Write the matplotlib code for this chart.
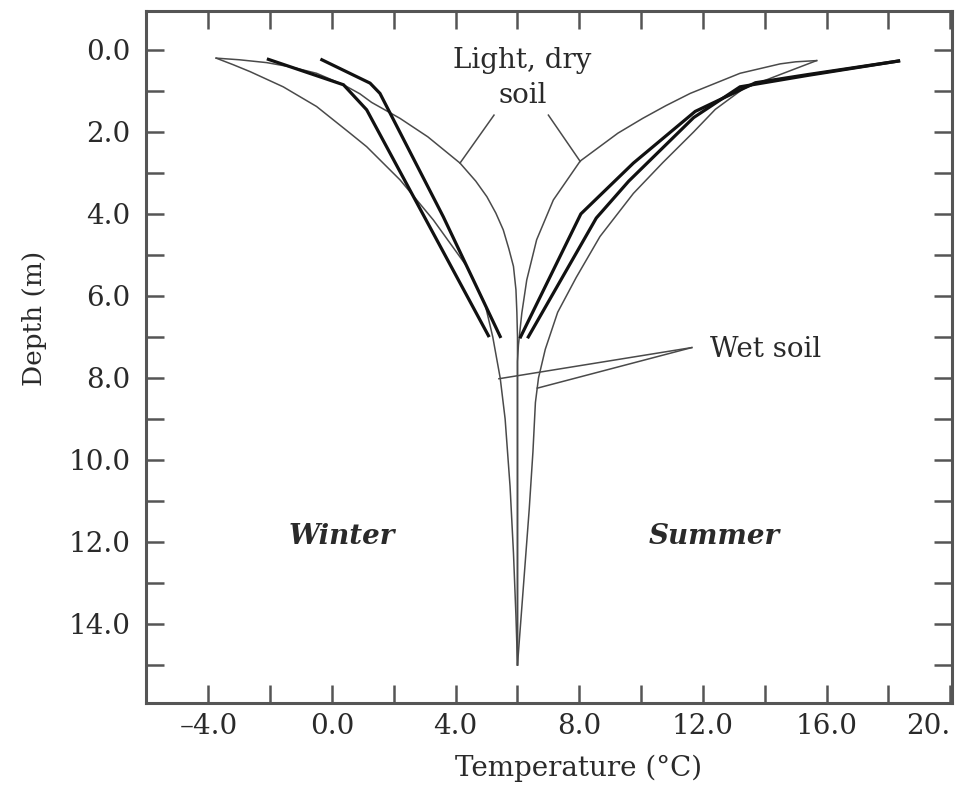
import numpy as np
import matplotlib.pyplot as plt

plt.rcParams['font.family'] = ['DejaVu Serif']

# seasonal soil temperature profiles, (temperature degC, depth m)
dry_winter_t = [-3.75, -3.0, -2.11, -1.3, -0.5, 0.37, 0.9, 1.28, 2.2, 3.1, 4.14, 4.65, 5.01,
                5.3, 5.54, 5.72, 5.87, 5.95, 5.98, 6.0, 6.0]
dry_winter_d = [0.2, 0.24, 0.31, 0.42, 0.57, 0.85, 1.07, 1.28, 1.67, 2.12, 2.76, 3.2, 3.58,
                3.98, 4.39, 4.85, 5.28, 5.85, 6.4, 7.0, 15.0]

wet_winter_t = [-3.75, -3.2, -2.65, -1.58, -0.5, 0.58, 1.12, 2.2, 3.28, 4.36, 4.95, 5.2, 5.44,
                5.6, 5.76, 5.87, 5.95, 6.0]
wet_winter_d = [0.2, 0.36, 0.53, 0.9, 1.38, 2.03, 2.36, 3.17, 4.15, 5.28, 6.2, 7.0, 8.0,
                9.0, 10.65, 12.27, 13.8, 15.0]

dry_summer_t = [15.68, 15.0, 14.5, 13.2, 11.59, 10.8, 10.05, 9.25, 8.03, 7.16, 6.62, 6.3, 6.14,
                6.03, 6.0, 6.0]
dry_summer_d = [0.26, 0.29, 0.34, 0.57, 1.06, 1.36, 1.67, 2.03, 2.71, 3.66, 4.63, 5.61, 6.42,
                7.2, 7.6, 15.0]

wet_summer_t = [15.68, 14.5, 13.3, 12.4, 11.7, 10.7, 9.75, 8.67, 7.9, 7.3, 6.9, 6.68, 6.58,
                6.5, 6.38, 6.22, 6.1, 6.0]
wet_summer_d = [0.26, 0.6, 0.95, 1.45, 2.0, 2.75, 3.5, 4.55, 5.55, 6.4, 7.3, 8.0, 8.6,
                9.8, 11.2, 12.8, 14.0, 15.0]

# measured profiles (thick lines)
obs_winter1_t = [-2.06, 0.37, 1.12, 5.06]
obs_winter1_d = [0.23, 0.85, 1.46, 6.97]
obs_winter2_t = [-0.33, 1.23, 1.55, 3.6, 5.44]
obs_winter2_d = [0.24, 0.81, 1.06, 4.07, 6.99]
obs_summer1_t = [18.33, 15.4, 13.7, 11.75, 9.75, 8.05, 6.1]
obs_summer1_d = [0.27, 0.6, 0.8, 1.5, 2.76, 4.0, 7.0]
obs_summer2_t = [18.33, 15.4, 13.2, 11.7, 9.6, 8.55, 6.35]
obs_summer2_d = [0.27, 0.62, 0.9, 1.65, 3.2, 4.1, 7.0]

x_ticks = [-4, -2, 0, 2, 4, 6, 8, 10, 12, 14, 16, 18, 20]
x_labels = ['\u20134.0', '', '0.0', '', '4.0', '', '8.0', '', '12.0', '', '16.0', '', '20.']
y_ticks = list(range(0, 16))
y_labels = ['%.1f' % v if v % 2 == 0 else '' for v in y_ticks]

txt = '#2a2a2a'
thin = dict(color='#4a4a4a', lw=1.1)
thick = dict(color='#111111', lw=2.3, solid_joinstyle='miter')

fig = plt.figure(figsize=(9.68, 7.9), dpi=100)
ax = fig.add_axes([0.1505, 0.1101, 0.833, 0.876])

for t, d in [(dry_winter_t, dry_winter_d), (wet_winter_t, wet_winter_d),
             (dry_summer_t, dry_summer_d), (wet_summer_t, wet_summer_d)]:
    ax.plot(t, d, **thin)
for t, d in [(obs_winter1_t, obs_winter1_d), (obs_winter2_t, obs_winter2_d),
             (obs_summer1_t, obs_summer1_d), (obs_summer2_t, obs_summer2_d)]:
    ax.plot(t, d, **thick)

# leader lines for the labels
ax.plot([5.24, 4.14], [1.59, 2.76], **thin)
ax.plot([7.0, 8.03], [1.59, 2.72], **thin)
ax.plot([11.64, 5.40], [7.26, 8.02], **thin)
ax.plot([11.64, 6.64], [7.26, 8.25], **thin)

ax.text(6.15, 0.44, 'Light, dry', ha='center', va='baseline', fontsize=20, color=txt)
ax.text(6.16, 1.29, 'soil', ha='center', va='baseline', fontsize=20, color=txt)
ax.text(12.23, 7.49, 'Wet soil', ha='left', va='baseline', fontsize=20, color=txt)
ax.text(0.32, 12.05, 'Winter', ha='center', va='baseline', fontsize=20,
        fontweight='bold', fontstyle='italic', color=txt)
ax.text(12.38, 12.05, 'Summer', ha='center', va='baseline', fontsize=20,
        fontweight='bold', fontstyle='italic', color=txt)

ax.set_xlim(-6.03, 20.06)
ax.set_ylim(15.93, -0.95)
ax.set_xticks(x_ticks)
ax.set_xticklabels(x_labels)
ax.set_yticks(y_ticks)
ax.set_yticklabels(y_labels)
ax.get_xticklabels()[-1].set_ha('right')

ax.tick_params(axis='both', direction='in', length=13, width=1.8, color='#555555',
               labelsize=20, labelcolor=txt, top=True, right=True)
ax.tick_params(axis='x', pad=7)
ax.tick_params(axis='y', pad=11)
for s in ax.spines.values():
    s.set_linewidth(2.2)
    s.set_color('#555555')

ax.set_xlabel('Temperature (\u00b0C)', fontsize=20, color=txt)
ax.xaxis.set_label_coords(0.537, -0.075)
ax.set_ylabel('Depth (m)', fontsize=19, color=txt)
ax.yaxis.set_label_coords(-0.123, 0.556)

fig.savefig('out.png', dpi=100)
